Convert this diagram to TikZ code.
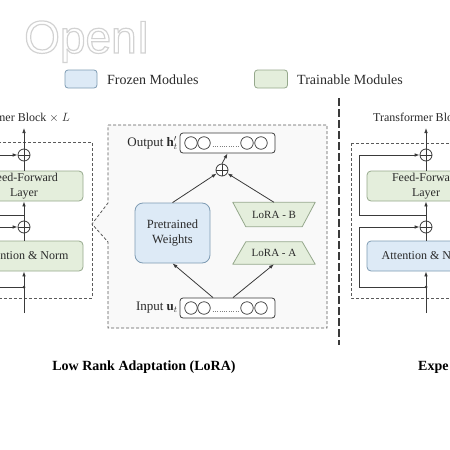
\documentclass[tikz,border=0pt]{standalone}
\usepackage{fontspec}
\setmainfont{Liberation Serif}
\newfontfamily\wmfont{Liberation Sans}
\usetikzlibrary{arrows.meta,shapes.geometric}
\definecolor{lncol}{HTML}{3A3A3A}
\definecolor{txtcol}{HTML}{2A2A2A}
\definecolor{bluefill}{HTML}{DDEAF6}
\definecolor{bluebd}{HTML}{7E9BB3}
\definecolor{greenfill}{HTML}{E4EEDC}
\definecolor{greenbd}{HTML}{95A88C}
\definecolor{dashcol}{HTML}{5A5A5A}
\begin{document}
\begin{tikzpicture}[x=1pt,y=-1pt,
  ln/.style={draw=lncol,line width=0.8pt},
  arr/.style={ln,-{Latex[length=5pt,width=3.6pt]}},
  dashbox/.style={draw=dashcol,line width=0.8pt,dash pattern=on 3pt off 2pt},
  frozen/.style={draw=bluebd,fill=bluefill,line width=0.8pt},
  train/.style={draw=greenbd,fill=greenfill,line width=0.8pt},
  blk/.style={rounded corners=4pt,minimum width=118pt,minimum height=30pt,align=center,inner sep=0pt,text=txtcol,font=\fontsize{12}{15}\selectfont},
  oplus/.style={circle,draw=lncol,line width=0.8pt,minimum size=12pt,inner sep=0pt,fill=white,
    path picture={\draw[lncol,line width=0.8pt] (path picture bounding box.north)--(path picture bounding box.south) (path picture bounding box.east)--(path picture bounding box.west);}},
  vec/.style={draw=lncol,line width=0.8pt,rounded corners=3pt,minimum width=95pt,minimum height=20pt,inner sep=0pt,fill=white},
  cell/.style={circle,draw=lncol,line width=0.7pt,minimum size=12.5pt,inner sep=0pt},
  lorabox/.style={minimum width=82pt,minimum height=24pt,inner sep=0pt},
  loratext/.style={inner sep=0pt,text=txtcol,font=\fontsize{11}{12}\selectfont},
  lab/.style={text=txtcol,inner sep=0pt},
  jdot/.style={circle,fill=lncol,inner sep=0pt,minimum size=3pt}
]
\useasboundingbox (0,0) rectangle (450,450);
\clip (0,0) rectangle (450,450);

% watermark
\node[anchor=base west,inner sep=0pt,text=gray!35,font=\wmfont\fontsize{46}{46}\selectfont] (wm) at (24,53) {\special{pdf:literal 1 Tr 1.2 w}OpenI\special{pdf:literal 0 Tr}};

% legend
\node[frozen,rounded corners=3pt,minimum width=32pt,minimum height=18pt,inner sep=0pt] (lgf) at (81,79) {};
\node[lab,anchor=west,font=\fontsize{14}{16}\selectfont] (lgft) at (107,80) {Frozen Modules};
\node[train,rounded corners=3pt,minimum width=33pt,minimum height=18pt,inner sep=0pt] (lgt) at (271,79) {};
\node[lab,anchor=west,font=\fontsize{14}{16}\selectfont] (lgtt) at (297,80) {Trainable Modules};

% separator
\coordinate (st) at (339,98);
\coordinate (sb) at (339,345);
\draw[draw=lncol,line width=1.8pt,dash pattern=on 8pt off 3pt] (st) -- (sb);

% ---------- left block ----------
\draw[dashbox] (-20,142) rectangle (92,298);
\node[lab,anchor=east,font=\fontsize{12}{14}\selectfont] (lt) at (70,118) {Transformer Block $\times$ $L$};
\node[oplus] (lp1) at (24,155) {};
\node[blk,train] (lff) at (24,186) {Feed-Forward\\Layer};
\node[oplus] (lp2) at (24,227) {};
\node[blk,train] (lat) at (24,256) {Attention \& Norm};
\coordinate (lbot) at (24,313);
\coordinate (ltop) at (24,128);
\coordinate (lj1) at (24,215);
\node[jdot] (lj2) at (24,287) {};
\draw[arr] (lbot) -- (lat.south);
\draw[ln] (lat.north) -- (lp2.south);
\draw[arr] (lp2.north) -- (lff.south);
\draw[ln] (lff.north) -- (lp1.south);
\draw[arr] (lp1.north) -- (ltop);
\draw[arr] (lj1) -- ++(-67,0) |- (lp1.west);
\draw[arr] (lj2.center) -- ++(-67,0) |- (lp2.west);

% ---------- LoRA ----------
\draw[dashbox,fill=gray!5] (108,125) -- (327,125) -- (327,328) -- (108,328) -- (108,242) -- (92,224) -- (108,203) -- cycle;
\node[vec] (outv) at (227.5,143) {};
\foreach \n/\x in {1/191,2/204,3/247,4/261} \node[cell] (o\n) at (\x,143) {};
\draw[gray,line width=0.8pt,dash pattern=on 0.8pt off 1.5pt] ([xshift=2pt,yshift=-3pt]o2.east) -- ([xshift=-2pt,yshift=-3pt]o3.west);
\node[vec] (inv) at (227.5,308) {};
\foreach \n/\x in {1/191,2/204,3/247,4/261} \node[cell] (i\n) at (\x,308) {};
\draw[gray,line width=0.8pt,dash pattern=on 0.8pt off 1.5pt] ([xshift=2pt,yshift=-3pt]i2.east) -- ([xshift=-2pt,yshift=-3pt]i3.west);
\node[lab,anchor=east,font=\fontsize{13}{15}\selectfont] (outl) at (178,143) {Output $\mathbf{h}'_t$};
\node[lab,anchor=east,font=\fontsize{13}{15}\selectfont] (inl) at (178,308) {Input $\mathbf{u}_t$};
\node[frozen,rounded corners=8pt,minimum width=75pt,minimum height=60pt,inner sep=0pt,align=center,text=txtcol,font=\fontsize{12.5}{15}\selectfont] (pw) at (172.5,233) {Pretrained\\Weights};
% LoRA-B (wide on top)
\node[lorabox] (lb) at (274,214.5) {};
\draw[train,line join=round] (lb.north west) -- (lb.north east) -- ([xshift=-13pt]lb.south east) -- ([xshift=13pt]lb.south west) -- cycle;
\node[loratext] (lbt) at (lb.center) {LoRA - B};
% LoRA-A (wide at bottom)
\node[lorabox,minimum height=22pt] (la) at (274,253) {};
\draw[train,line join=round] ([xshift=13pt]la.north west) -- ([xshift=-13pt]la.north east) -- (la.south east) -- (la.south west) -- cycle;
\node[loratext] (lat2) at (la.center) {LoRA - A};
\node[oplus] (pl) at (222,170) {};
\draw[arr] (pl.north) -- (outv.south);
\draw[arr] (pw.north) -- (pl);
\draw[arr] (lb.north) -- (pl);
\draw[arr] ([xshift=-14.5pt]inv.north) -- (pw.south);
\draw[arr] ([xshift=5.5pt]inv.north) -- (la.south);

% ---------- right block ----------
\draw[dashbox] (351,143) rectangle (470,298);
\node[lab,anchor=west,font=\fontsize{12}{14}\selectfont] (rt) at (373,118) {Transformer Block $\times$ $L$};
\node[oplus] (rp1) at (426,155) {};
\node[blk,train] (rff) at (426,186) {Feed-Forward\\Layer};
\node[oplus] (rp2) at (426,227) {};
\node[blk,frozen] (rat) at (426,256) {Attention \& Norm};
\coordinate (rbot) at (426,313);
\coordinate (rtop) at (426,128);
\coordinate (rj1) at (426,215);
\node[jdot] (rj2) at (426,287) {};
\draw[arr] (rbot) -- (rat.south);
\draw[ln] (rat.north) -- (rp2.south);
\draw[arr] (rp2.north) -- (rff.south);
\draw[ln] (rff.north) -- (rp1.south);
\draw[arr] (rp1.north) -- (rtop);
\draw[arr] (rj1) -- ++(-67,0) |- (rp1.west);
\draw[arr] (rj2.center) -- ++(-67,0) |- (rp2.west);

% captions
\node[lab,text=black,font=\bfseries\fontsize{14}{16}\selectfont] (cap1) at (144,367) {Low Rank Adaptation (LoRA)};
\node[lab,text=black,anchor=west,font=\bfseries\fontsize{14}{16}\selectfont] (cap2) at (418,367) {Expe};
\end{tikzpicture}
\end{document}
